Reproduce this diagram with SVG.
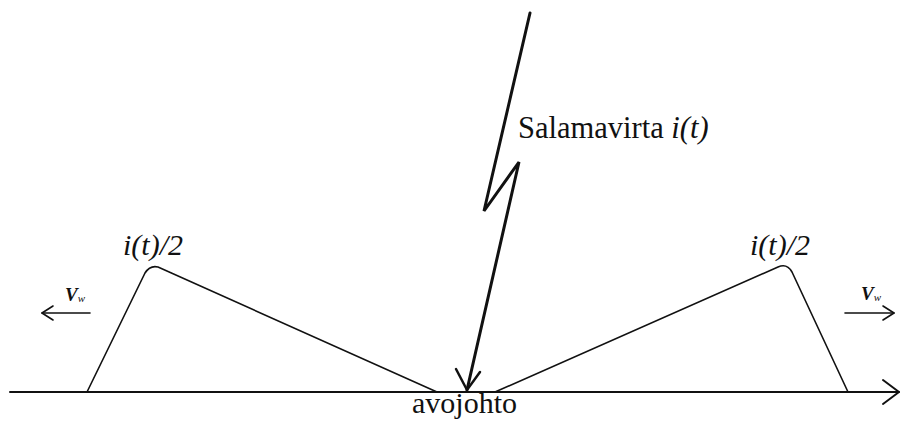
<svg xmlns="http://www.w3.org/2000/svg" width="901" height="421" viewBox="0 0 901 421">
<style>
.ln{fill:none;stroke:#111;stroke-width:1.6;stroke-linecap:round;stroke-linejoin:round}
.bolt{fill:none;stroke:#111;stroke-width:3;stroke-linejoin:miter;stroke-linecap:round}
</style>
<rect width="901" height="421" fill="#fff"/>
<g id="connectors">
<g id="baseline">
<line class="ln" x1="10" y1="392" x2="899" y2="392" style="stroke-width:2"/>
<polyline class="ln" points="883,380 899,392 883,404" style="stroke-width:2"/>
</g>
<g id="lightning">
<polyline class="bolt" points="530,13 484,211 519,162 467,390"/>
<polyline class="bolt" points="456,369 467,390 480,372" style="stroke-width:2.5"/>
</g>
<g id="arrow-left">
<line class="ln" x1="42" y1="313" x2="90" y2="313"/>
<polyline class="ln" points="53,306 42,313 53,320"/>
</g>
<g id="arrow-right">
<line class="ln" x1="845" y1="313" x2="894" y2="313"/>
<polyline class="ln" points="883,306 894,313 883,320"/>
</g>
</g>
<g font-family="Liberation Serif, serif" fill="#111">
<g id="wave-left">
<path class="ln" d="M87,392 L145,273 Q150,265 158,267 L437,392"/>
<text x="123" y="255" font-size="30" font-style="italic">i(t)/2</text>
<text x="65" y="301" font-size="19" font-style="italic" font-weight="bold">V<tspan font-size="11" font-weight="normal" dy="1">w</tspan></text>
</g>
<g id="wave-right">
<path class="ln" d="M495,392 L778,267 Q787,263 792,272 L848,392"/>
<text x="750" y="255" font-size="30" font-style="italic">i(t)/2</text>
<text x="861" y="300" font-size="19" font-style="italic" font-weight="bold">V<tspan font-size="11" font-weight="normal" dy="1">w</tspan></text>
</g>
<g id="label-lightning">
<text x="518" y="138" font-size="30.5">Salamavirta <tspan font-style="italic">i(t)</tspan></text>
</g>
<g id="label-line">
<text x="412" y="413" font-size="30">avojohto</text>
</g>
</g>
</svg>
